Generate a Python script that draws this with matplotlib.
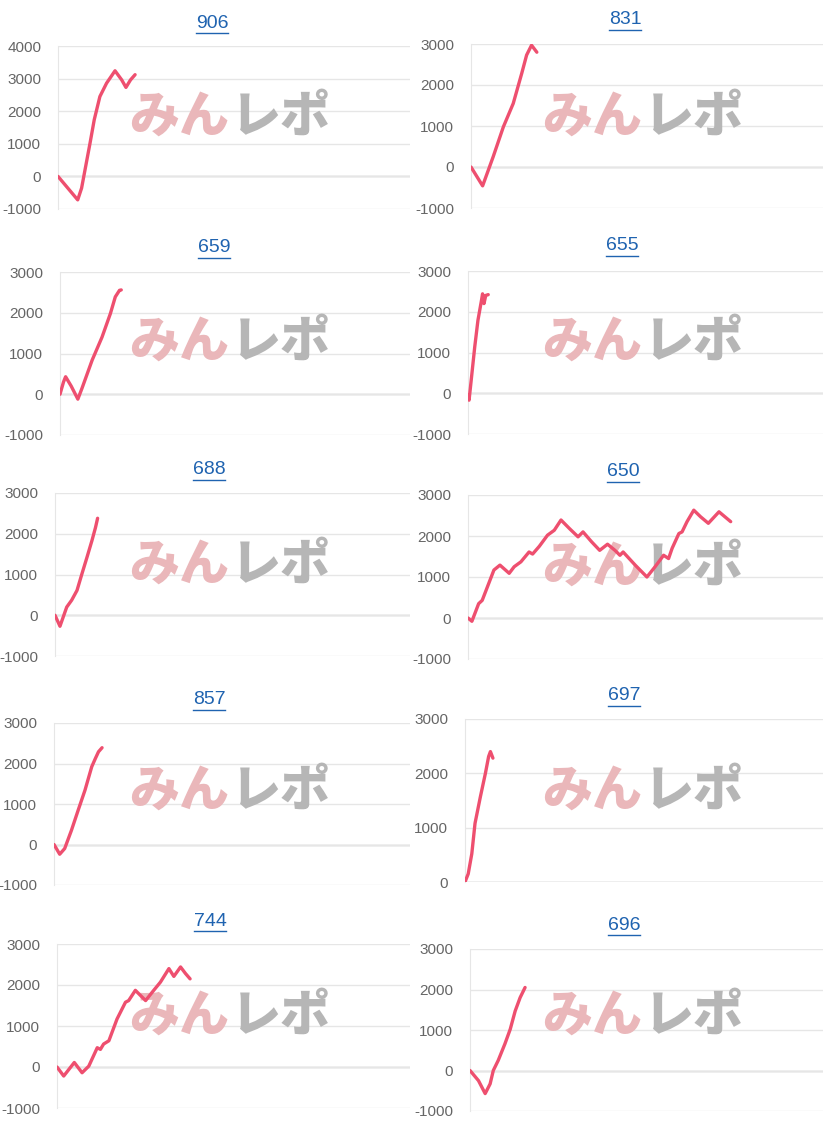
import matplotlib
matplotlib.use("Agg")
import matplotlib.pyplot as plt
from matplotlib.lines import Line2D

plt.rcParams["axes.unicode_minus"] = False

# ── Data (x = game index on a 0-100 axis, y = balance) ───────
x_906 = [0, 5.6, 6.7, 9.1, 10.3, 11.9, 13.8, 16.2, 18.1, 19.3, 20.6, 21.9]
y_906 = [0, -720, -360, 1020, 1740, 2450, 2860, 3240, 2960, 2730, 2960, 3120]

x_831 = [0, 3.3, 6.3, 9.2, 12.0, 14.4, 15.8, 17.2, 18.7]
y_831 = [0, -460, 250, 980, 1550, 2280, 2730, 2970, 2800]

x_659 = [0, 1.0, 1.6, 3.2, 5.1, 6.3, 9.2, 12.0, 14.4, 15.8, 17.0, 17.5]
y_659 = [0, 300, 430, 200, -120, 150, 840, 1400, 1980, 2390, 2550, 2560]

x_655 = [0, 0.3, 1.0, 1.9, 2.8, 3.8, 4.1, 4.5, 5.0, 5.7]
y_655 = [-50, -170, 400, 1140, 1790, 2280, 2440, 2200, 2400, 2420]

x_688 = [0, 1.4, 3.3, 4.7, 6.2, 7.6, 9.0, 10.4, 11.4, 12.0]
y_688 = [0, -270, 200, 370, 610, 1020, 1420, 1830, 2150, 2380]

x_650 = [0, 1.1, 3.0, 4.0, 7.3, 9.0, 11.6, 13.0, 14.9, 17.2, 18.2, 20.1,
         22.4, 24.3, 26.2, 28.6, 31.0, 32.4, 34.8, 37.1, 39.3, 41.4, 42.8,
         43.7, 47.1, 50.4, 52.7, 55.1, 56.5, 57.5, 59.4, 60.3, 61.7, 63.6,
         65.5, 67.7, 70.7, 74.0]
y_650 = [0, -80, 350, 430, 1170, 1290, 1090, 1250, 1370, 1610, 1560, 1750,
         2020, 2140, 2390, 2180, 1980, 2100, 1860, 1650, 1800, 1650, 1530,
         1610, 1290, 1000, 1250, 1530, 1450, 1700, 2060, 2100, 2350, 2630,
         2470, 2310, 2590, 2350]

x_857 = [0, 1.6, 3.0, 4.9, 6.8, 8.7, 10.6, 11.6, 12.5, 13.5]
y_857 = [0, -240, -100, 350, 850, 1340, 1920, 2120, 2290, 2390]

x_697 = [0, 0.9, 1.9, 2.8, 4.3, 5.7, 6.6, 7.1, 7.8]
y_697 = [0, 150, 520, 1080, 1570, 2000, 2310, 2400, 2280]

x_744 = [0, 1.9, 4.9, 7.1, 9.0, 11.4, 12.3, 13.2, 14.7, 17.0, 19.4, 20.3,
         22.2, 25.1, 27.4, 29.3, 31.7, 33.1, 35.0, 36.4, 37.7]
y_744 = [0, -220, 110, -140, 20, 470, 430, 560, 640, 1170, 1580, 1620,
         1870, 1620, 1870, 2070, 2400, 2210, 2440, 2280, 2150]

x_696 = [0, 2.4, 4.3, 5.7, 6.6, 8.0, 9.9, 11.4, 12.8, 14.2, 15.6]
y_696 = [0, -250, -570, -330, 0, 250, 660, 1020, 1470, 1800, 2050]

titles = ["906", "831", "659", "655", "688", "650", "857", "697", "744", "696"]
xs = [x_906, x_831, x_659, x_655, x_688, x_650, x_857, x_697, x_744, x_696]
ys = [y_906, y_831, y_659, y_655, y_688, y_650, y_857, y_697, y_744, y_696]
y_ranges = [(-1000, 4000), (-1000, 3000), (-1000, 3000), (-1000, 3000),
            (-1000, 3000), (-1000, 3000), (-1000, 3000), (0, 3000),
            (-1000, 3000), (-1000, 3000)]

# ── Layout in pixels: axes box (left, top, right, bottom), title centre ──
W, H = 828, 1130
boxes = [(58, 46, 410, 209), (471, 44, 823, 208),
         (60, 272, 410, 435), (468, 271, 823, 434),
         (55, 493, 410, 656), (468, 495, 823, 659),
         (54, 723, 410, 885), (465, 719, 823, 882),
         (57, 944, 410, 1108), (470, 949, 823, 1111)]
title_pos = [(212, 23), (625, 20), (214, 248), (622, 246), (209, 470),
             (623, 472), (209, 700), (624, 696), (210, 921), (624, 925)]
mark_y = [117, 117, 342, 342, 565, 567, 791, 791, 1016, 1016]

LINE = "#ee4f6f"
GRID = "#e6e6e6"
TICK = "#666666"

fig = plt.figure(figsize=(W / 100, H / 100), dpi=100)
fig.patch.set_facecolor("white")

title_texts = []
for i in range(10):
    l, t, r, b = boxes[i]
    ax = fig.add_axes([l / W, 1 - b / H, (r - l) / W, (b - t) / H])
    ax.plot(xs[i], ys[i], color=LINE, linewidth=2.4,
            solid_joinstyle="round", solid_capstyle="round", zorder=3)
    lo, hi = y_ranges[i]
    ax.set_ylim(lo, hi)
    ax.set_xlim(0, 100)
    ax.set_yticks(range(lo, hi + 1, 1000))
    ax.set_xticks([])
    ax.grid(axis="y", color=GRID, linewidth=1, zorder=0)
    ax.axhline(0, color="#b8b8b8", linewidth=1, zorder=1)
    for side in ["top", "right", "bottom"]:
        ax.spines[side].set_visible(False)
    ax.spines["left"].set_color(GRID)
    ax.tick_params(axis="y", length=0, pad=12, colors=TICK,
                   labelsize=11)
    for lab in ax.get_yticklabels():
        lab.set_fontfamily("Liberation Sans")

    # watermark
    cx = 179 if i % 2 == 0 else 592
    my = mark_y[i]
    ax.text(cx / W, 1 - my / H, "みん", transform=fig.transFigure,
            ha="center", va="center", fontsize=36, fontweight="heavy",
            family=["Noto Sans CJK JP", "DejaVu Sans"], color="#eab7ba",
            zorder=2)
    ax.text((cx + 102) / W, 1 - my / H, "レポ", transform=fig.transFigure,
            ha="center", va="center", fontsize=36, fontweight="heavy",
            family=["Noto Sans CJK JP", "DejaVu Sans"], color="#b6b6b6",
            zorder=2)

    tx, ty = title_pos[i]
    tt = fig.text(tx / W, 1 - ty / H, titles[i], ha="center", va="center",
                  fontsize=14, color="#1f63b0", family="Liberation Sans")
    title_texts.append(tt)

# underline the link-style titles
fig.canvas.draw()
inv = fig.transFigure.inverted()
for tt in title_texts:
    bb = tt.get_window_extent().transformed(inv)
    yline = bb.y0 - 1.5 / H
    fig.add_artist(Line2D([bb.x0, bb.x1], [yline, yline],
                          transform=fig.transFigure, color="#1f63b0",
                          linewidth=1.0))

plt.savefig("out.png", dpi=100, facecolor="white")
